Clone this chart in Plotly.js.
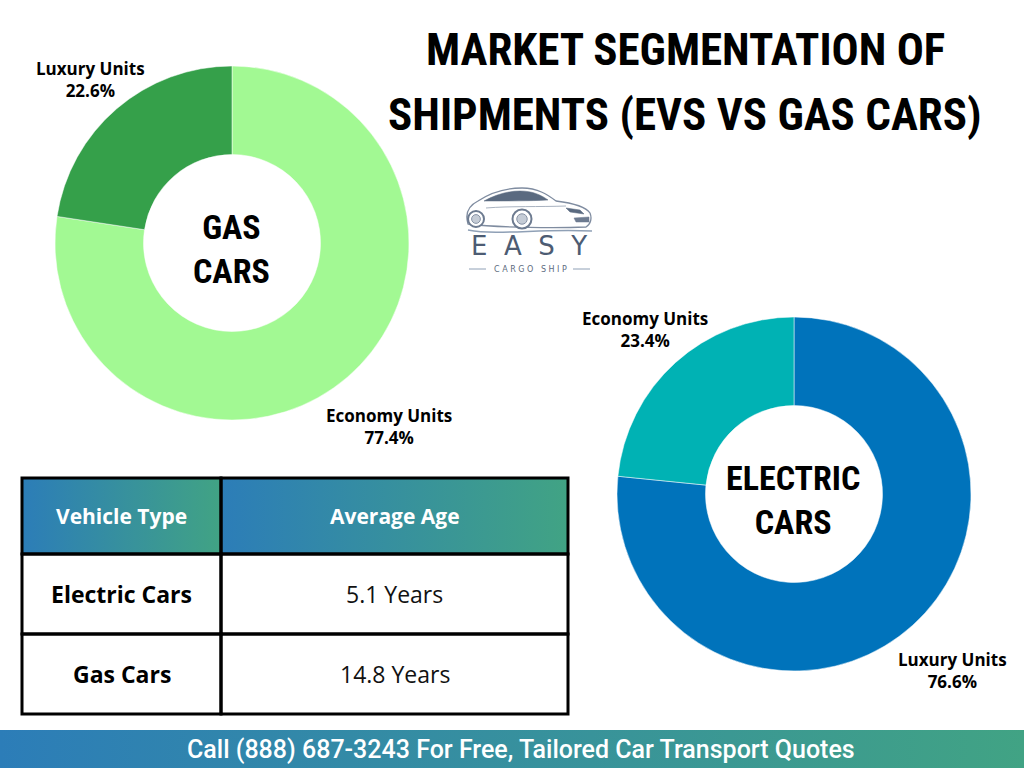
<!DOCTYPE html>
<html>
<head>
<meta charset="utf-8">
<script src="https://cdn.plot.ly/plotly-3.0.1.min.js"></script>
<style>
  html, body { margin: 0; padding: 0; background: #ffffff; }
  #chart { width: 1024px; height: 768px; }
</style>
</head>
<body>
<div id="chart"></div>
<script>
// Shipment mix by segment
const gasLabels = ['Economy Units', 'Luxury Units'];
const gasValues = [77.4, 22.6];
const evLabels = ['Luxury Units', 'Economy Units'];
const evValues = [76.6, 23.4];

// Average fleet age table
const tableHeader = ['Vehicle Type', 'Average Age'];
const vehicleTypes = ['Electric Cars', 'Gas Cars'];
const averageAges = [5.1, 14.8];

const W = 1024, H = 768;
const px = x => x / W;          // pixel x -> paper x
const py = y => 1 - y / H;      // pixel y (from top) -> paper y

const condensed = 'Roboto Condensed, Roboto, sans-serif';
const sans = 'Open Sans, Noto Sans, sans-serif';

function gradientUri(c1, c2) {
  const svg = '<svg xmlns="http://www.w3.org/2000/svg" width="100" height="10" viewBox="0 0 100 10" preserveAspectRatio="none">' +
    '<defs><linearGradient id="g" x1="0" x2="1" y1="0" y2="0">' +
    '<stop offset="0" stop-color="' + c1 + '"/><stop offset="1" stop-color="' + c2 + '"/>' +
    '</linearGradient></defs><rect width="100" height="10" fill="url(#g)"/></svg>';
  return 'data:image/svg+xml;base64,' + btoa(svg);
}
const gradBlueGreen = gradientUri('#2c7db8', '#41a384');

function donutDomain(cx, cy, r) {
  return { x: [px(cx - r), px(cx + r)], y: [py(cy + r), py(cy - r)] };
}

const gasTrace = {
  type: 'pie',
  labels: gasLabels,
  values: gasValues,
  hole: 0.5,
  sort: false,
  direction: 'clockwise',
  rotation: 0,
  textinfo: 'none',
  marker: { colors: ['#a2f993', '#35a04a'], line: { color: '#ffffff', width: 0.5 } },
  domain: donutDomain(232, 243, 177),
  showlegend: false
};

const evTrace = {
  type: 'pie',
  labels: evLabels,
  values: evValues,
  hole: 0.5,
  sort: false,
  direction: 'clockwise',
  rotation: 0,
  textinfo: 'none',
  marker: { colors: ['#0073bb', '#00b2b4'], line: { color: '#ffffff', width: 0.5 } },
  domain: donutDomain(794, 494, 177),
  showlegend: false
};

const annotations = [];
const shapes = [];
const images = [];

function addText(text, x, y, font, opts) {
  annotations.push(Object.assign({
    text: text, x: px(x), y: py(y), xref: 'paper', yref: 'paper',
    xanchor: 'center', yanchor: 'middle', showarrow: false,
    font: font
  }, opts || {}));
}
function condensedFont(size, color, weight) {
  return { family: condensed, size: size, color: color, weight: weight, stretch: 'condensed' };
}

// Title
addText('MARKET SEGMENTATION OF', 685, 50, condensedFont(45, '#000000', 700));
addText('SHIPMENTS (EVS VS GAS CARS)', 685, 114, condensedFont(45, '#000000', 700));

// Donut centre captions
addText('GAS<br>CARS', 231, 249, condensedFont(34, '#000000', 700));
addText('ELECTRIC<br>CARS', 793, 500, condensedFont(34, '#000000', 700));

// Slice labels
const labelFont = { family: sans, size: 17, color: '#000000', weight: 700 };
function sliceLabel(labels, values, i, x, y) {
  addText(labels[i] + '<br>' + values[i].toFixed(1) + '%', x, y, labelFont);
}
sliceLabel(gasLabels, gasValues, 1, 90, 80);
sliceLabel(gasLabels, gasValues, 0, 389, 426);
sliceLabel(evLabels, evValues, 1, 645, 329);
sliceLabel(evLabels, evValues, 0, 952, 670);

// Table
const colX = [22, 221, 568];
const rowY = [478, 554, 634, 714];
for (let c = 0; c < 2; c++) {
  images.push({
    source: gradBlueGreen, xref: 'paper', yref: 'paper',
    x: px(colX[c]), y: py(rowY[0]), sizex: (colX[c + 1] - colX[c]) / W, sizey: (rowY[1] - rowY[0]) / H,
    xanchor: 'left', yanchor: 'top', sizing: 'stretch', layer: 'below'
  });
  addText(tableHeader[c], (colX[c] + colX[c + 1]) / 2, (rowY[0] + rowY[1]) / 2,
    { family: sans, size: 21, color: '#ffffff', weight: 700 });
}
for (let r = 0; r < 3; r++) {
  for (let c = 0; c < 2; c++) {
    shapes.push({
      type: 'rect', xref: 'paper', yref: 'paper',
      x0: px(colX[c]), x1: px(colX[c + 1]), y0: py(rowY[r + 1]), y1: py(rowY[r]),
      line: { color: '#000000', width: 3 }, fillcolor: 'rgba(0,0,0,0)'
    });
  }
}
for (let r = 0; r < vehicleTypes.length; r++) {
  const cy = (rowY[r + 1] + rowY[r + 2]) / 2;
  addText(vehicleTypes[r], (colX[0] + colX[1]) / 2, cy,
    { family: sans, size: 23, color: '#000000', weight: 700 });
  addText(averageAges[r].toFixed(1) + ' Years', (colX[1] + colX[2]) / 2, cy,
    { family: sans, size: 23, color: '#111111', weight: 400 });
}

// Footer bar
images.push({
  source: gradBlueGreen, xref: 'paper', yref: 'paper',
  x: 0, y: py(730), sizex: 1, sizey: 38 / H,
  xanchor: 'left', yanchor: 'top', sizing: 'stretch', layer: 'below'
});
addText('Call (888) 687-3243 For Free, Tailored Car Transport Quotes', 521, 749,
  { family: 'Roboto, sans-serif', size: 25, color: '#ffffff', weight: 500 });

// Logo: car outline
function curve(pts) {
  // cubic bezier chain: start, then (c1, c2, end) triples
  let d = 'M' + px(pts[0][0]).toFixed(5) + ',' + py(pts[0][1]).toFixed(5);
  for (let i = 1; i + 2 < pts.length; i += 3) {
    d += ' C' + [pts[i], pts[i + 1], pts[i + 2]].map(p => px(p[0]).toFixed(5) + ',' + py(p[1]).toFixed(5)).join(' ');
  }
  return d;
}
function polygon(points) {
  return points.map((p, i) => (i === 0 ? 'M' : 'L') + px(p[0]).toFixed(5) + ',' + py(p[1]).toFixed(5)).join(' ') + ' Z';
}
// body
shapes.push({
  type: 'path', xref: 'paper', yref: 'paper',
  path: curve([[468, 224], [465, 214], [468, 206], [478, 201],
               [490, 193], [505, 188], [522, 188],
               [538, 188], [548, 195], [556, 201],
               [572, 203], [586, 207], [590, 213],
               [592, 218], [591, 224], [586, 227],
               [560, 228], [500, 228], [468, 224]]) + ' Z',
  fillcolor: '#ffffff', line: { color: '#7f8ca0', width: 1.3 }
});
// windows
shapes.push({
  type: 'path', xref: 'paper', yref: 'paper',
  path: curve([[484, 201], [495, 195], [507, 191], [520, 191],
               [533, 191], [541, 195], [548, 200],
               [530, 201], [505, 201], [484, 201]]) + ' Z',
  fillcolor: '#5a6a80', line: { color: '#5a6a80', width: 0.5 }
});
// headlight and grille
shapes.push({
  type: 'path', xref: 'paper', yref: 'paper',
  path: polygon([[566, 208], [580, 210], [584, 214], [570, 212]]),
  fillcolor: '#5a6a80', line: { color: '#5a6a80', width: 0.5 }
});
shapes.push({
  type: 'path', xref: 'paper', yref: 'paper',
  path: polygon([[574, 218], [589, 217], [589, 222], [576, 222]]),
  fillcolor: '#6d7b90', line: { color: '#6d7b90', width: 0.5 }
});
// wheels
[[476, 219, 8], [522, 219, 9.5]].forEach(w => {
  shapes.push({
    type: 'circle', xref: 'paper', yref: 'paper',
    x0: px(w[0] - w[2]), x1: px(w[0] + w[2]), y0: py(w[1] + w[2]), y1: py(w[1] - w[2]),
    fillcolor: '#ffffff', line: { color: '#6d7b90', width: 2 }
  });
  shapes.push({
    type: 'circle', xref: 'paper', yref: 'paper',
    x0: px(w[0] - w[2] * 0.55), x1: px(w[0] + w[2] * 0.55), y0: py(w[1] + w[2] * 0.55), y1: py(w[1] - w[2] * 0.55),
    fillcolor: '#c5ccd6', line: { color: '#8994a6', width: 1 }
  });
});
// swoosh under the car
shapes.push({
  type: 'path', xref: 'paper', yref: 'paper',
  path: curve([[468, 230], [500, 236], [540, 228], [592, 231]]),
  line: { color: '#8fa0b6', width: 1.5 }
});
// side character line
shapes.push({
  type: 'path', xref: 'paper', yref: 'paper',
  path: curve([[486, 208], [510, 206], [540, 207], [566, 206]]),
  line: { color: '#a8b2c0', width: 1 }
});
addText('E  A  S  Y', 529, 246,
  { family: 'DejaVu Sans, sans-serif', size: 26, color: '#4d5c73', weight: 400 });
addText('C A R G O   S H I P', 530, 269,
  { family: 'DejaVu Sans, sans-serif', size: 8, color: '#5d6b80', weight: 400 });
shapes.push({ type: 'line', xref: 'paper', yref: 'paper', x0: px(469), x1: px(486), y0: py(269), y1: py(269), line: { color: '#8fa0b6', width: 1 } });
shapes.push({ type: 'line', xref: 'paper', yref: 'paper', x0: px(573), x1: px(590), y0: py(269), y1: py(269), line: { color: '#8fa0b6', width: 1 } });

const layout = {
  width: W, height: H,
  margin: { l: 0, r: 0, t: 0, b: 0 },
  paper_bgcolor: '#ffffff',
  plot_bgcolor: 'rgba(0,0,0,0)',
  showlegend: false,
  annotations: annotations,
  shapes: shapes,
  images: images
};

Plotly.newPlot('chart', [gasTrace, evTrace], layout, { displayModeBar: false, staticPlot: true });
</script>
</body>
</html>
